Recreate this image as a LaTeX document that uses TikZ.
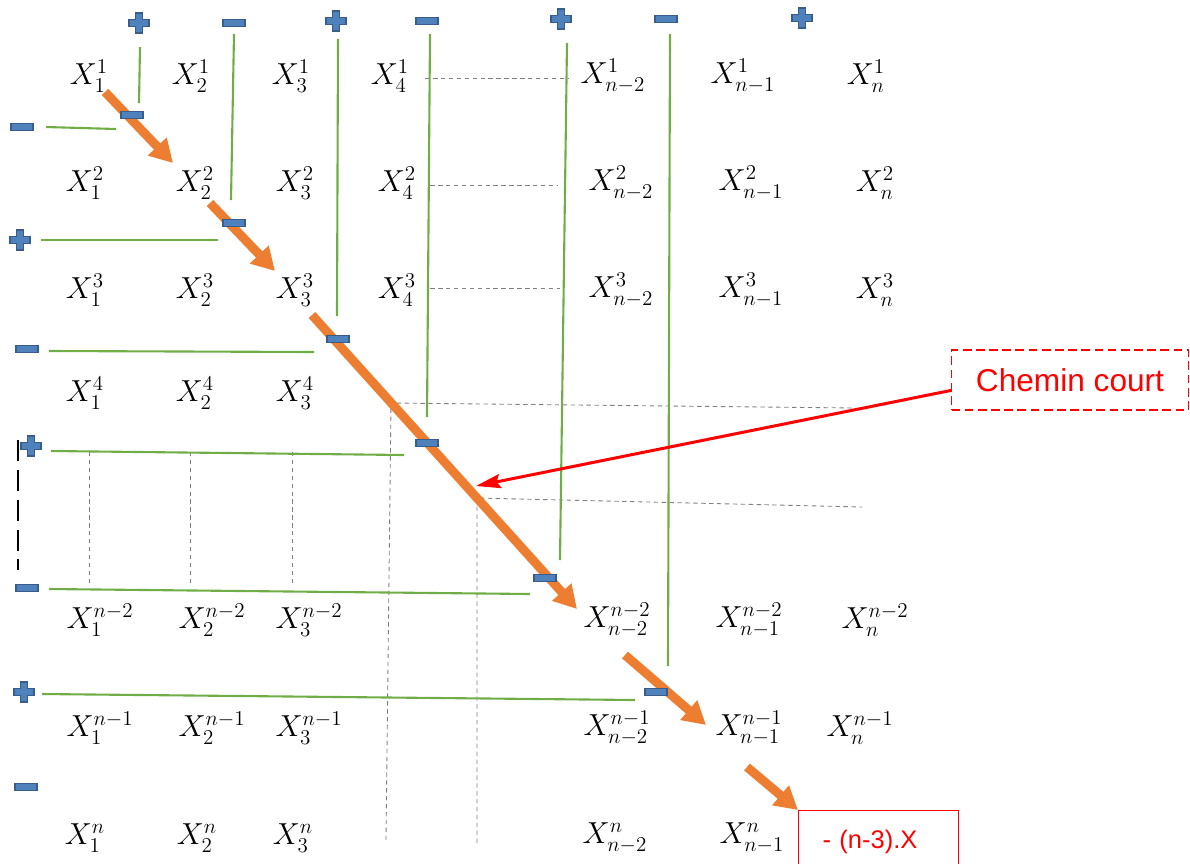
\documentclass[tikz,border=0pt]{standalone}
\usepackage{fontspec}
\newfontfamily\notefont{Liberation Sans}
\usetikzlibrary{arrows.meta}

\definecolor{pathorange}{RGB}{237,125,49}
\definecolor{signgreen}{RGB}{112,173,71}
\definecolor{signblue}{RGB}{79,129,189}
\definecolor{signedge}{RGB}{56,93,138}

\begin{document}
\begin{tikzpicture}[
  x=0.02cm, y=-0.02cm,
  entry/.style={font=\fontsize{18}{21}\selectfont, inner sep=1pt},
  minusmark/.style={rectangle, fill=signblue, draw=signedge, line width=0.8pt,
    minimum width=0.44cm, minimum height=0.13cm, inner sep=0pt},
  plusmark/.pic={\filldraw[fill=signblue, draw=signedge, line width=0.8pt]
    (-3.5,-10) -- (3.5,-10) -- (3.5,-3.5) -- (10,-3.5) -- (10,3.5) -- (3.5,3.5)
    -- (3.5,10) -- (-3.5,10) -- (-3.5,3.5) -- (-10,3.5) -- (-10,-3.5) -- (-3.5,-3.5) -- cycle;},
  signline/.style={signgreen, line width=1.2pt},
  guide/.style={gray, line width=0.5pt, dash pattern=on 2.5pt off 2pt},
  walk/.style={pathorange, line width=5.1pt, -{Triangle[length=13pt, width=14pt]}},
  notebox/.style={draw=red, text=red, line width=0.6pt, notefont},
  notefont/.style={font=\notefont\fontsize{18}{22}\selectfont}
]
\useasboundingbox (0,0) rectangle (1190,863);
\clip (0,0) rectangle (1190,863);

% entries, row by row
\node[entry] (x11) at (89,76) {$X_1^1$};
\node[entry] (x21) at (191,76) {$X_2^1$};
\node[entry] (x31) at (291,76) {$X_3^1$};
\node[entry] (x41) at (390,76) {$X_4^1$};
\node[entry] (xp1) at (613,76) {$X_{n-2}^1$};
\node[entry] (xq1) at (743,76) {$X_{n-1}^1$};
\node[entry] (xn1) at (866,76) {$X_n^1$};

\node[entry] (x12) at (85,183) {$X_1^2$};
\node[entry] (x22) at (195,183) {$X_2^2$};
\node[entry] (x32) at (295,183) {$X_3^2$};
\node[entry] (x42) at (397,183) {$X_4^2$};
\node[entry] (xp2) at (621,183) {$X_{n-2}^2$};
\node[entry] (xq2) at (751,183) {$X_{n-1}^2$};
\node[entry] (xn2) at (875,183) {$X_n^2$};

\node[entry] (x13) at (85,290) {$X_1^3$};
\node[entry] (x23) at (195,290) {$X_2^3$};
\node[entry] (x33) at (295,290) {$X_3^3$};
\node[entry] (x43) at (397,290) {$X_4^3$};
\node[entry] (xp3) at (621,290) {$X_{n-2}^3$};
\node[entry] (xq3) at (751,290) {$X_{n-1}^3$};
\node[entry] (xn3) at (875,290) {$X_n^3$};

\node[entry] (x14) at (85,393) {$X_1^4$};
\node[entry] (x24) at (195,393) {$X_2^4$};
\node[entry] (x34) at (295,393) {$X_3^4$};

\node[entry] (x1p) at (100,620) {$X_1^{n-2}$};
\node[entry] (x2p) at (212,620) {$X_2^{n-2}$};
\node[entry] (x3p) at (309,620) {$X_3^{n-2}$};
\node[entry] (xpp) at (617,620) {$X_{n-2}^{n-2}$};
\node[entry] (xqp) at (749,620) {$X_{n-1}^{n-2}$};
\node[entry] (xnp) at (875,620) {$X_n^{n-2}$};

\node[entry] (x1q) at (100,728) {$X_1^{n-1}$};
\node[entry] (x2q) at (212,728) {$X_2^{n-1}$};
\node[entry] (x3q) at (309,728) {$X_3^{n-1}$};
\node[entry] (xpq) at (617,728) {$X_{n-2}^{n-1}$};
\node[entry] (xqq) at (749,728) {$X_{n-1}^{n-1}$};
\node[entry] (xnq) at (860,728) {$X_n^{n-1}$};

\node[entry] (x1n) at (85,838) {$X_1^n$};
\node[entry] (x2n) at (197,838) {$X_2^n$};
\node[entry] (x3n) at (293,838) {$X_3^n$};
\node[entry] (xpn) at (615,838) {$X_{n-2}^n$};
\node[entry] (xqn) at (752,838) {$X_{n-1}^n$};

% notes
\node[notebox, dash pattern=on 5pt off 2.5pt, minimum width=4.74cm, minimum height=1.2cm] (chemin) at (1070,380) {Chemin court};
\node[notebox, anchor=north west, text width=2.24cm, inner xsep=0.48cm, inner ysep=0pt,
  text height=21.5pt, text depth=1cm, font=\notefont\fontsize{14.5}{17}\selectfont] (result) at (798,810) {- (n-3).X};
\coordinate (hit) at (476,486);

% dashed guides
\draw[guide] ([shift={(14,2)}]x41.east) -- (568,78);
\draw[guide] ([shift={(12,2)}]x42.east) -- (558,185);
\draw[guide] ([shift={(12,-2)}]x43.east) -- (560,288);
\foreach \gx in {89,190,292} \draw[guide] (\gx,452) -- (\gx,583);
\draw[guide] (386,840) -- (391,403) -- (855,408);
\draw[guide] (477,843) -- (477,498) -- (862,507);
\draw[black, line width=1pt, dash pattern=on 12pt off 5pt] (18,440) -- (18,570);

% sign lines
\draw[signline] (140,47) -- (139,103);
\draw[signline] (234,34) -- (231,200);
\draw[signline] (338,39) -- (337,316);
\draw[signline] (430,34) -- (427,417);
\draw[signline] (567,43) -- (560,560);
\draw[signline] (670,34) -- (668,666);
\draw[signline] (46,127) -- (116,129);
\draw[signline] (41,240) -- (218,240);
\draw[signline] (49,351) -- (314,352);
\draw[signline] (51,451) -- (404,455);
\draw[signline] (49,589) -- (530,594);
\draw[signline] (42,694) -- (635,700);

% diagonal walk
\draw[walk] ([shift={(16,16)}]x11.center) -- ([shift={(-22,-20)}]x22.center);
\draw[walk] ([shift={(15,20)}]x22.center) -- ([shift={(-20,-19)}]x33.center);
\draw[walk] ([shift={(17,25)}]x33.center) -- ([shift={(-40,-11)}]xpp.center);
\draw[walk] ([shift={(8,35)}]xpp.center) -- ([shift={(-43,-3)}]xqq.center);
\draw[walk] ([shift={(-2,39)}]xqq.center) -- (result.north west);

\draw[red, line width=1.7pt, -{Stealth[length=14pt, width=8pt, inset=2pt]}] (chemin.185) -- (hit);

% signs
\pic (ptop1) at (139,23) {plusmark};
\node[minusmark] (mtop2) at (234,23) {};
\pic (ptop3) at (336,21) {plusmark};
\node[minusmark] (mtop4) at (427,21) {};
\pic (ptop5) at (561,19) {plusmark};
\node[minusmark] (mtop6) at (666,19) {};
\pic (ptop7) at (802,18) {plusmark};

\node[minusmark] (mleft1) at (22,127) {};
\pic (pleft2) at (20,240) {plusmark};
\node[minusmark] (mleft3) at (27,349) {};
\pic (pleft4) at (31,446) {plusmark};
\node[minusmark] (mleft5) at (27,588) {};
\pic (pleft6) at (24,692) {plusmark};
\node[minusmark] (mleft7) at (26,787) {};

\node[minusmark] (mdiag1) at (132,115) {};
\node[minusmark] (mdiag2) at (234,223) {};
\node[minusmark] (mdiag3) at (338,339) {};
\node[minusmark] (mdiag4) at (427,443) {};
\node[minusmark] (mdiag5) at (545,578) {};
\node[minusmark] (mdiag6) at (656,692) {};
\end{tikzpicture}
\end{document}
